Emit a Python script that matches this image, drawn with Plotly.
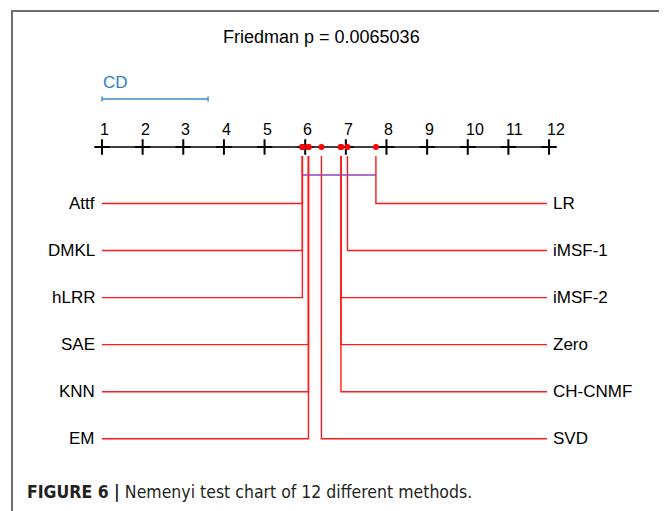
import plotly.graph_objects as go

# ---------------- data ----------------
title_text = "Friedman p = 0.0065036"
cd_value = 2.61
tick_values = list(range(1, 13))
tick_labels = [str(v) for v in tick_values]

left_methods = ["Attf", "DMKL", "hLRR", "SAE", "KNN", "EM"]
left_ranks = [5.93, 5.93, 5.93, 6.08, 6.08, 6.08]

right_methods = ["LR", "iMSF-1", "iMSF-2", "Zero", "CH-CNMF", "SVD"]
right_ranks = [7.74, 7.04, 6.88, 6.88, 6.88, 6.40]

caption_bold = "FIGURE 6 |"
caption_text = "Nemenyi test chart of 12 different methods."

# ---------------- layout constants ----------------
PAGE_OFF = 8                      # default body margin of the html page
W, H = 667 - PAGE_OFF, 511 - PAGE_OFF
PX_PER_RANK = 40.64
RANK1_PX = 102.0                  # page pixel of rank 1


def rx(px):
    """page pixel column -> rank-axis coordinate (for decorations)"""
    return 1 + (px - RANK1_PX) / PX_PER_RANK


X0 = rx(PAGE_OFF)
X1 = rx(PAGE_OFF + W)

AXIS_Y = 147
TICKLABEL_Y = 129
LINE_TOP = 156
CLIQUE_Y = 175
CD_Y = 99
ROW0 = 203.5
ROW_GAP = 47.05

FONT = "Liberation Sans, Arial, Helvetica, sans-serif"
RED = "#ff1a1a"

fig = go.Figure()

# axis line
fig.add_trace(go.Scatter(x=[rx(95), rx(556)], y=[AXIS_Y, AXIS_Y], mode="lines",
                         line=dict(color="black", width=1.3), hoverinfo="skip"))
# tick crosses
fig.add_trace(go.Scatter(x=tick_values, y=[AXIS_Y] * len(tick_values), mode="markers",
                         marker=dict(symbol="cross-thin", size=11,
                                     line=dict(color="black", width=2)),
                         hoverinfo="skip"))

# method connector lines
for i, (name, r) in enumerate(zip(left_methods, left_ranks)):
    yrow = ROW0 + i * ROW_GAP
    fig.add_trace(go.Scatter(x=[1.0, r, r], y=[yrow, yrow, LINE_TOP], mode="lines",
                             line=dict(color=RED, width=1.4), hoverinfo="skip"))
for i, (name, r) in enumerate(zip(right_methods, right_ranks)):
    yrow = ROW0 + i * ROW_GAP
    fig.add_trace(go.Scatter(x=[rx(547), r, r], y=[yrow, yrow, LINE_TOP], mode="lines",
                             line=dict(color=RED, width=1.4), hoverinfo="skip"))

# clique bar
all_ranks = left_ranks + right_ranks
fig.add_trace(go.Scatter(x=[min(all_ranks), max(all_ranks)], y=[CLIQUE_Y, CLIQUE_Y],
                         mode="lines", line=dict(color="#9a3fb0", width=1.5),
                         hoverinfo="skip"))

# rank dots
fig.add_trace(go.Scatter(x=all_ranks, y=[AXIS_Y] * len(all_ranks), mode="markers",
                         marker=dict(color="#ff0000", size=6), hoverinfo="skip"))

# CD bar
cd_end = 1 + cd_value
fig.add_trace(go.Scatter(x=[1, cd_end, None, 1, 1, None, cd_end, cd_end],
                         y=[CD_Y, CD_Y, None, CD_Y - 2.5, CD_Y + 2.5, None, CD_Y - 2.5, CD_Y + 2.5],
                         mode="lines", line=dict(color="#3a88c8", width=1.4),
                         hoverinfo="skip"))

annotations = []
annotations.append(dict(x=rx(321), y=37, text=title_text, showarrow=False,
                        xanchor="center", yanchor="middle",
                        font=dict(family=FONT, size=18, color="black")))
annotations.append(dict(x=rx(101), y=82, text="CD", showarrow=False,
                        xanchor="left", yanchor="middle",
                        font=dict(family=FONT, size=17, color="#2f80c4")))
for v, lab in zip(tick_values, tick_labels):
    annotations.append(dict(x=v - 4 / PX_PER_RANK, y=TICKLABEL_Y, text=lab, showarrow=False,
                            xanchor="left", yanchor="middle",
                            font=dict(family=FONT, size=16, color="black")))
for i, name in enumerate(left_methods):
    annotations.append(dict(x=rx(97), y=ROW0 + i * ROW_GAP, text=name, showarrow=False,
                            xanchor="right", yanchor="middle",
                            font=dict(family=FONT, size=17, color="black")))
for i, name in enumerate(right_methods):
    annotations.append(dict(x=rx(551), y=ROW0 + i * ROW_GAP, text=name, showarrow=False,
                            xanchor="left", yanchor="middle",
                            font=dict(family=FONT, size=17, color="black")))
annotations.append(dict(x=rx(25), y=492, text="<b>" + caption_bold + "</b> " + caption_text,
                        showarrow=False, xanchor="left", yanchor="middle",
                        font=dict(family="DejaVu Sans Condensed, Liberation Sans",
                                  size=17.5, color="#231f20")))

fig.update_layout(
    width=W, height=H, margin=dict(l=0, r=0, t=0, b=0),
    paper_bgcolor="white", plot_bgcolor="white", showlegend=False,
    xaxis=dict(range=[X0, X1], visible=False, fixedrange=True),
    yaxis=dict(range=[PAGE_OFF + H, PAGE_OFF], visible=False, fixedrange=True),
    annotations=annotations,
    shapes=[dict(type="rect", xref="x", yref="y", x0=rx(12), x1=rx(665), y0=11, y1=540,
                 line=dict(color="#6d6d6d", width=2), fillcolor="rgba(0,0,0,0)")],
)

fig.write_html("out.html")
